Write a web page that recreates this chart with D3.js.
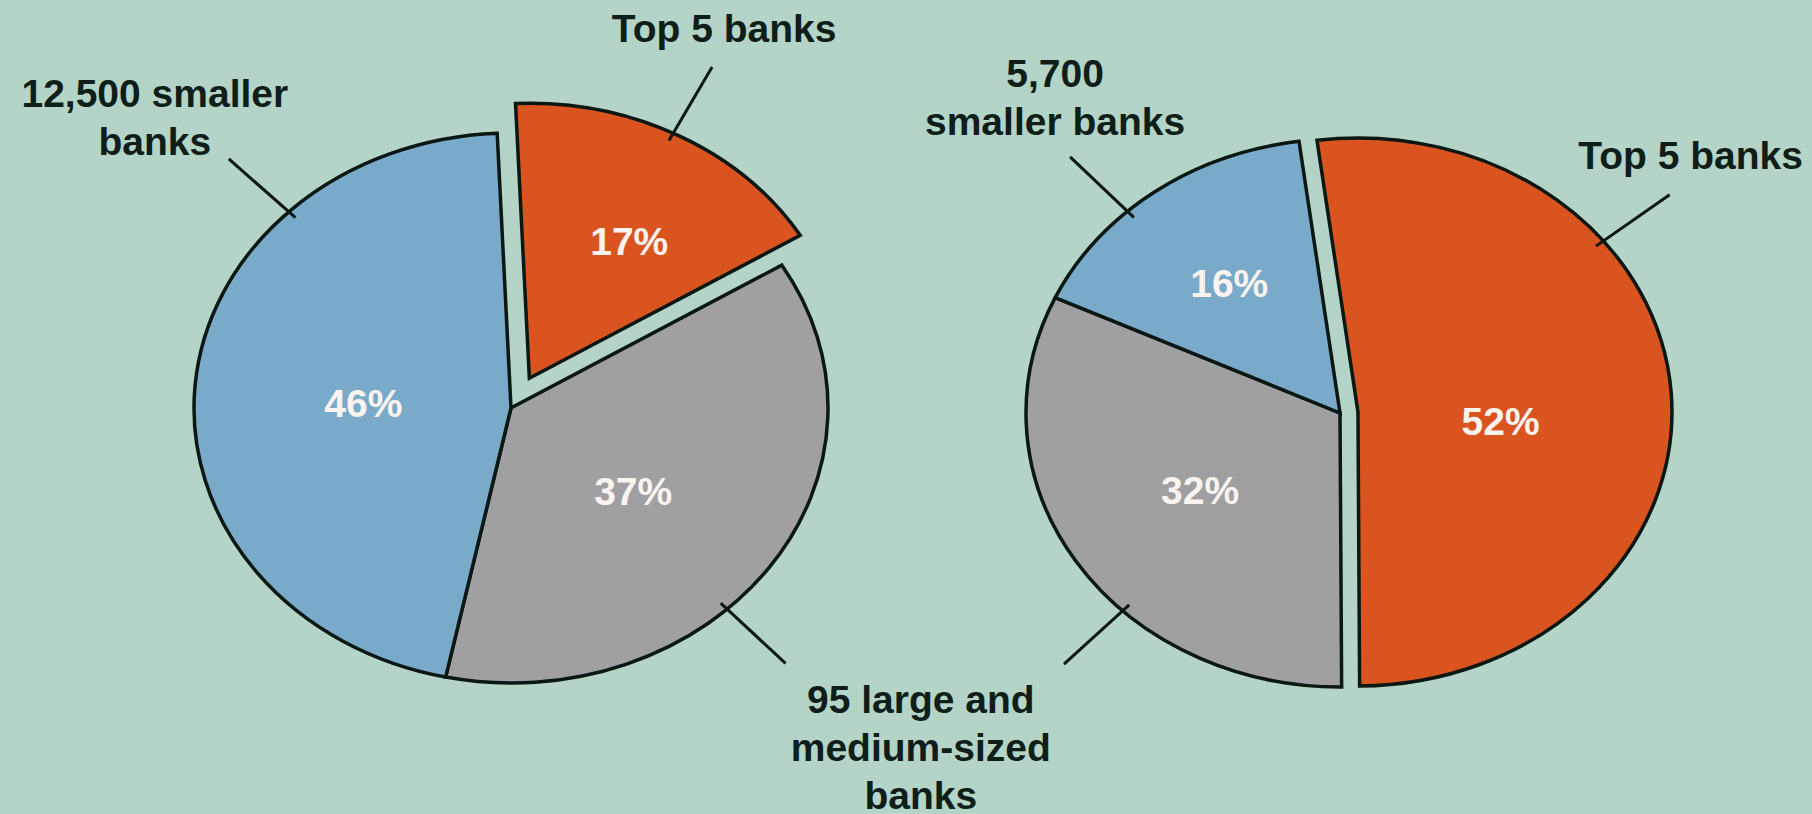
<!DOCTYPE html>
<html>
<head>
<meta charset="utf-8">
<script src="https://cdn.jsdelivr.net/npm/d3@7"></script>
<style>
  html, body { margin: 0; padding: 0; background: #b3d4c7; }
  svg { display: block; }
  text { font-family: "Liberation Sans", Arial, sans-serif; font-weight: bold; }
</style>
</head>
<body>
<svg id="chart" width="1812" height="814"></svg>
<script>
// Share of banking assets by group, two periods
const categories = ["Top 5 banks", "95 large and medium-sized banks", "smaller banks"];
const leftValues = [17, 37, 46];
const rightValues = [52, 32, 16];
const leftLabels = [["Top 5 banks"], ["95 large and", "medium-sized", "banks"], ["12,500 smaller", "banks"]];
const rightLabels = [["Top 5 banks"], ["95 large and", "medium-sized", "banks"], ["5,700", "smaller banks"]];
const colors = ["#d9541f", "#a0a0a3", "#7aaac9"];

const W = 1812, H = 814;
const svg = d3.select("#chart");
svg.append("rect").attr("width", W).attr("height", H).attr("fill", "#b3d4c7");

const FONT = 39, LINE = 48;
const STROKE = "#0b1713";

// Pie layouts: centre, ellipse radii, rotation of the first slice, pull-out per slice,
// angle (degrees) at which each slice's leader line leaves the rim,
// and small offsets for the percentage labels.
const pies = [
  { values: leftValues, labels: leftLabels, cx: 511, cy: 408, rx: 317, ry: 275,
    start: -2.5, explode: [35, 0, 0], leaders: [27, 137, 315.5],
    nudge: [[5, 17], [-14, -1], [-3, 5]] },
  { values: rightValues, labels: rightLabels, cx: 1340, cy: 413, rx: 314, ry: 274,
    start: -7.5, explode: [18, 0, 0], leaders: [51.4, 223.8, 317.4],
    nudge: [[15, 17], [8, -6], [8, 11]] }
];

const deg = Math.PI / 180;
const leaderEnds = [];

pies.forEach((p, pi) => {
  const R = p.ry;
  const sx = p.rx / p.ry;
  const pie = d3.pie().sort(null).value(d => d)
    .startAngle(p.start * deg).endAngle(p.start * deg + 2 * Math.PI);
  const arcs = pie(p.values);
  const arc = d3.arc().innerRadius(0).outerRadius(R);

  // unit-circle direction mapped onto the ellipse
  const ell = (a, k) => [Math.sin(a) * p.rx * k, -Math.cos(a) * p.ry * k];

  const offsets = arcs.map((d, i) => {
    const m = (d.startAngle + d.endAngle) / 2;
    const v = ell(m, 1);
    const len = Math.hypot(v[0], v[1]);
    return [v[0] / len * p.explode[i], v[1] / len * p.explode[i]];
  });

  const g = svg.append("g");
  arcs.forEach((d, i) => {
    g.append("path")
      .attr("transform", `translate(${p.cx + offsets[i][0]},${p.cy + offsets[i][1]}) scale(${sx},1)`)
      .attr("d", arc(d))
      .attr("fill", colors[i])
      .attr("stroke", STROKE)
      .attr("stroke-width", 3.5)
      .attr("stroke-linejoin", "miter")
      .attr("vector-effect", "non-scaling-stroke");
  });

  // percentage labels near the geometric centroid of each sector
  arcs.forEach((d, i) => {
    const theta = d.endAngle - d.startAngle;
    const m = (d.startAngle + d.endAngle) / 2;
    const k = (2 / 3) * Math.sin(theta / 2) / (theta / 2);
    const v = ell(m, k);
    svg.append("text")
      .attr("x", p.cx + offsets[i][0] + v[0] + p.nudge[i][0])
      .attr("y", p.cy + offsets[i][1] + v[1] + p.nudge[i][1])
      .attr("dy", "0.36em")
      .attr("text-anchor", "middle")
      .attr("fill", "#fbf3ee")
      .attr("font-size", FONT)
      .text(d3.format(".0f")(d.data) + "%");
  });

  // leader lines
  leaderEnds[pi] = [];
  p.leaders.forEach((a, i) => {
    const inner = ell(a * deg, 0.97), outer = ell(a * deg, 1.27);
    const ox = p.cx + offsets[i][0], oy = p.cy + offsets[i][1];
    svg.append("line")
      .attr("x1", ox + inner[0]).attr("y1", oy + inner[1])
      .attr("x2", ox + outer[0]).attr("y2", oy + outer[1])
      .attr("stroke", STROKE).attr("stroke-width", 3);
    leaderEnds[pi][i] = [ox + outer[0], oy + outer[1]];
  });
});

function block(lines, x, yLast) {
  const t = svg.append("text")
    .attr("text-anchor", "middle")
    .attr("fill", "#0f1e19")
    .attr("font-size", FONT);
  lines.forEach((s, j) => {
    t.append("tspan").attr("x", x)
      .attr("y", yLast - (lines.length - 1 - j) * LINE).text(s);
  });
}

// category labels placed beside the outer end of their leaders
let e = leaderEnds[0][0];
block(pies[0].labels[0], e[0] + 12, e[1] - 25);
e = leaderEnds[0][2];
block(pies[0].labels[2], e[0] - 74, e[1] - 4);
e = leaderEnds[1][0];
block(pies[1].labels[0], e[0] + 21, e[1] - 26);
e = leaderEnds[1][2];
block(pies[1].labels[2], e[0] - 15, e[1] - 22);
// the middle group shares one label between both leaders
const a = leaderEnds[0][1], b = leaderEnds[1][1];
block(pies[0].labels[1], (a[0] + b[0]) / 2 - 4, (a[1] + b[1]) / 2 + 49 + 2 * LINE);
</script>
</body>
</html>
